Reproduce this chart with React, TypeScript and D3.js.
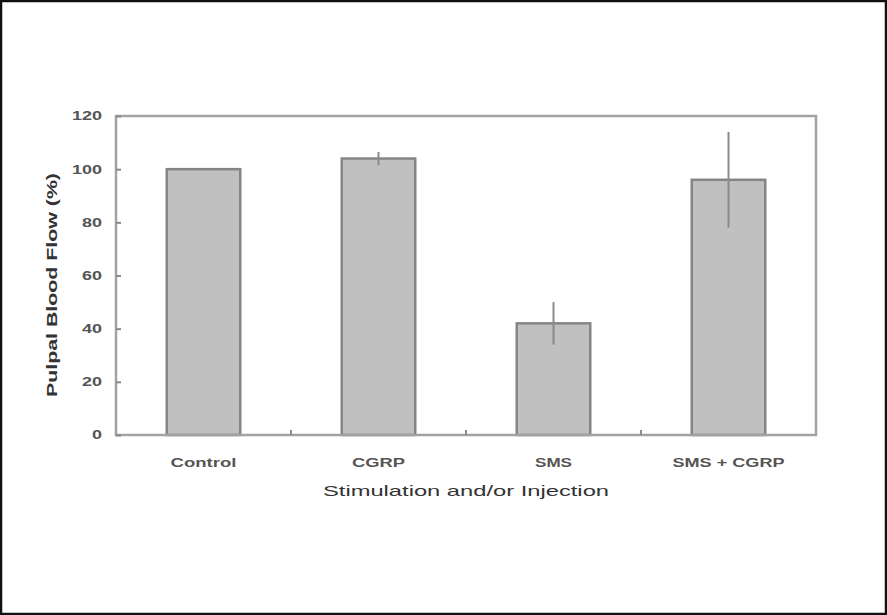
import * as d3 from "d3";
import { useEffect, useRef } from "react";

const categories = ["Control", "CGRP", "SMS", "SMS + CGRP"];
const flowValues = [100, 104, 42, 96];
const flowErrors = [0, 2.5, 8, 18];
const yTicks = [0, 20, 40, 60, 80, 100, 120];

export default function App() {
  const svgRef = useRef<SVGSVGElement | null>(null);

  useEffect(() => {
    const width = 887;
    const height = 615;
    const left = 116;
    const right = 816;
    const top = 116;
    const bottom = 435;

    const svg = d3.select(svgRef.current);
    svg.selectAll("*").remove();

    const x = d3.scaleBand<string>().domain(categories).range([left, right]).padding(0);
    const y = d3.scaleLinear().domain([0, 120]).range([bottom, top]);
    const barW = x.bandwidth() * 0.42;

    // outer image border
    svg
      .append("rect")
      .attr("x", 1)
      .attr("y", 1)
      .attr("width", width - 2)
      .attr("height", height - 2)
      .attr("fill", "#fff")
      .attr("stroke", "#111")
      .attr("stroke-width", 2.5);

    const font = "'Liberation Sans', Arial, sans-serif";

    // bars
    svg
      .append("g")
      .selectAll("rect")
      .data(flowValues)
      .join("rect")
      .attr("x", (_, i) => x(categories[i])! + x.bandwidth() / 2 - barW / 2)
      .attr("y", (d) => y(d))
      .attr("width", barW)
      .attr("height", (d) => y(0) - y(d))
      .attr("fill", "#c0c0c0")
      .attr("stroke", "#858585")
      .attr("stroke-width", 2.5);

    // error bars (no caps)
    svg
      .append("g")
      .selectAll("line")
      .data(flowValues.map((v, i) => ({ v, e: flowErrors[i], c: categories[i] })).filter((d) => d.e > 0))
      .join("line")
      .attr("x1", (d) => x(d.c)! + x.bandwidth() / 2)
      .attr("x2", (d) => x(d.c)! + x.bandwidth() / 2)
      .attr("y1", (d) => y(d.v + d.e))
      .attr("y2", (d) => y(d.v - d.e))
      .attr("stroke", "#8a8a8a")
      .attr("stroke-width", 2);

    // frame
    svg
      .append("rect")
      .attr("x", left)
      .attr("y", top)
      .attr("width", right - left)
      .attr("height", bottom - top)
      .attr("fill", "none")
      .attr("stroke", "#a2a2a2")
      .attr("stroke-width", 2.5);

    // y axis ticks + labels
    const yAxis = svg
      .append("g")
      .attr("transform", `translate(${left},0)`)
      .call(d3.axisLeft(y).tickValues(yTicks).tickSizeInner(-5).tickSizeOuter(0).tickPadding(14));
    yAxis.select(".domain").remove();
    yAxis.selectAll(".tick line").attr("stroke", "#8a8a8a").attr("stroke-width", 2);
    yAxis
      .selectAll(".tick text")
      .attr("font-family", font)
      .attr("font-size", 12)
      .attr("font-weight", "bold")
      .attr("fill", "#555")
      .attr("textLength", (d: any) => String(d).length * 10)
      .attr("lengthAdjust", "spacingAndGlyphs");

    // x ticks between categories
    svg
      .append("g")
      .selectAll("line")
      .data(categories.slice(1))
      .join("line")
      .attr("x1", (d) => x(d)!)
      .attr("x2", (d) => x(d)!)
      .attr("y1", bottom)
      .attr("y2", bottom - 5)
      .attr("stroke", "#8a8a8a")
      .attr("stroke-width", 2);

    // category labels
    const labelWidths: Record<string, number> = { Control: 66, CGRP: 53, SMS: 37, "SMS + CGRP": 112 };
    svg
      .append("g")
      .selectAll("text")
      .data(categories)
      .join("text")
      .attr("x", (d) => x(d)! + x.bandwidth() / 2)
      .attr("y", 467)
      .attr("text-anchor", "middle")
      .attr("font-family", font)
      .attr("font-size", 12)
      .attr("font-weight", "bold")
      .attr("fill", "#555")
      .attr("textLength", (d) => labelWidths[d])
      .attr("lengthAdjust", "spacingAndGlyphs")
      .text((d) => d);

    // axis titles
    svg
      .append("text")
      .attr("x", 466)
      .attr("y", 496)
      .attr("text-anchor", "middle")
      .attr("font-family", font)
      .attr("font-size", 15)
      .attr("fill", "#333")
      .attr("textLength", 286)
      .attr("lengthAdjust", "spacingAndGlyphs")
      .text("Stimulation and/or Injection");

    svg
      .append("text")
      .attr("transform", "translate(57,285) rotate(-90)")
      .attr("text-anchor", "middle")
      .attr("font-family", font)
      .attr("font-size", 14)
      .attr("font-weight", "bold")
      .attr("fill", "#333")
      .attr("textLength", 224)
      .attr("lengthAdjust", "spacingAndGlyphs")
      .text("Pulpal Blood Flow (%)");
  }, []);

  return (
    <svg
      ref={svgRef}
      width={887}
      height={615}
      style={{ position: "absolute", top: 0, left: 0, display: "block" }}
    />
  );
}
